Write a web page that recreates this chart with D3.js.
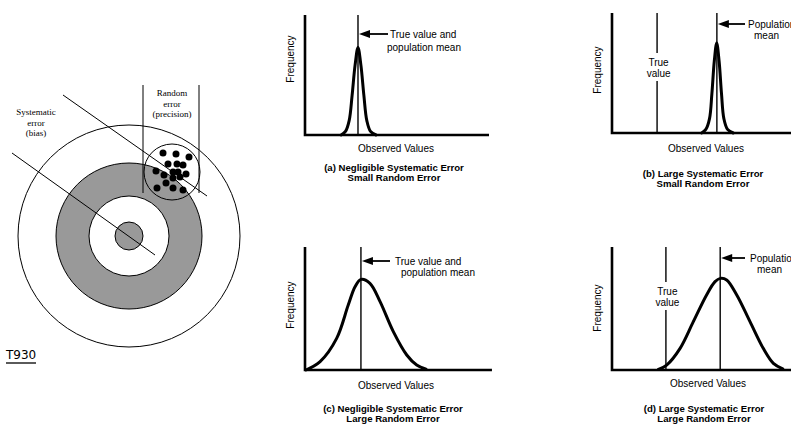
<!DOCTYPE html>
<html>
<head>
<meta charset="utf-8">
<script src="https://cdn.jsdelivr.net/npm/d3@7"></script>
<style>
  body { margin: 0; background: #fff; overflow: hidden; }
  svg { display: block; }
</style>
</head>
<body>
<div id="chart"></div>
<script>
// ---- target (left) : offsets from bullseye centre
var ringRadii = [111, 73, 40, 14]           // outer, gray ring, white, bull
var ringFills = ["#fff", "#999", "#fff", "#999"]
var hits = [
  [34,-83],[47,-82],[60,-79],[39,-72],[48,-72],[54,-71],[27,-65],[44,-64],
  [49,-64],[57,-62],[35,-61],[44,-58],[51,-59],[28,-48],[37,-53],[44,-48],[54,-46]
]
var hitCentre = [43, -64], hitRadius = 28

// ---- distribution panels : observed value vs frequency (0-100 units)
var curveA = [[19.6,0],[22,3],[24,12],[25.6,33],[27.2,58],[28.8,73],[30.4,58],[32,33],[33.6,12],[35.6,3],[38.6,0]]
var curveB = [[48.7,0],[51,3],[53,12],[54.3,33],[55.6,60],[56.9,75],[58.2,60],[59.5,33],[60.8,12],[62.8,3],[65.9,0]]
var curveC = [[0.5,0],[8.2,6.8],[17.2,25.7],[23.5,52.8],[27.2,67.7],[30.4,73.7],[35.3,70.5],[40.8,55.6],[48,31.2],[55.3,12.2],[60.7,4],[65.8,0.6]]
var curveD = [[25.2,0.5],[29.7,4],[37,17.6],[44.2,39.3],[51.4,61],[56,71.8],[58.9,74.5],[62.3,73.2],[67.8,61],[75,39.3],[82.2,17.6],[87.7,5.4],[92.8,1]]
var trueValues = [28.8, 24.5, 30.4, 29.3]
var meanValues = [28.8, 57, 30.4, 58.8]
var captions = [
  ["(a) Negligible Systematic Error", "Small Random Error"],
  ["(b) Large Systematic Error", "Small Random Error"],
  ["(c) Negligible Systematic Error", "Large Random Error"],
  ["(d) Large Systematic Error", "Large Random Error"]
]

var svg = d3.select("#chart").append("svg")
  .attr("width", 791).attr("height", 429)
  .style("background", "#fff")

var sans = "Liberation Sans, Arial, sans-serif"
var serif = "Liberation Serif, Times New Roman, serif"

// ============ target ============
var cx = 129, cy = 236
var tx = d3.scaleLinear().domain([-111, 111]).range([cx - 111, cx + 111])
var ty = d3.scaleLinear().domain([-111, 111]).range([cy - 111, cy + 111])
var tr = d3.scaleLinear().domain([0, 111]).range([0, 111])

var tg = svg.append("g")
tg.selectAll("circle.ring").data(ringRadii).enter().append("circle")
  .attr("class", "ring")
  .attr("cx", tx(0)).attr("cy", ty(0))
  .attr("r", function(d){ return tr(d) })
  .attr("fill", function(d, i){ return ringFills[i] })
  .attr("stroke", "#000").attr("stroke-width", 1)

// guide lines (random error brackets + bias lines)
var guideLines = [
  [14,-151,14,-43],[70,-151,70,-43],
  [-66,-141,78,-40],[-117,-83,26,19]
]
tg.append("circle")
  .attr("cx", tx(hitCentre[0])).attr("cy", ty(hitCentre[1]))
  .attr("r", tr(hitRadius))
  .attr("fill", "none").attr("stroke", "#000").attr("stroke-width", 1)
tg.selectAll("circle.hit").data(hits).enter().append("circle")
  .attr("class", "hit")
  .attr("cx", function(d){ return tx(d[0]) })
  .attr("cy", function(d){ return ty(d[1]) })
  .attr("r", 3.5).attr("fill", "#000")
tg.selectAll("line.guide").data(guideLines).enter().append("line")
  .attr("class", "guide")
  .attr("x1", function(d){ return tx(d[0]) }).attr("y1", function(d){ return ty(d[1]) })
  .attr("x2", function(d){ return tx(d[2]) }).attr("y2", function(d){ return ty(d[3]) })
  .attr("stroke", "#000").attr("stroke-width", 1)

function stack(g, lines, x, y0, dy, font, size, weight){
  lines.forEach(function(t, i){
    g.append("text").attr("x", x).attr("y", y0 + i*dy)
      .attr("text-anchor", "middle").attr("dominant-baseline", "central")
      .style("font-family", font).style("font-size", size + "px")
      .style("font-weight", weight || "normal")
      .text(t)
  })
}
stack(tg, ["Random", "error", "(precision)"], 172, 93, 10.5, serif, 9)
stack(tg, ["Systematic", "error", "(bias)"], 36, 112, 10.5, serif, 9)

tg.append("text").attr("x", 6).attr("y", 359)
  .style("font-family", "DejaVu Sans, sans-serif").style("font-size", "12px")
  .text("T930")
tg.append("line").attr("x1", 6).attr("x2", 36).attr("y1", 363).attr("y2", 363)
  .attr("stroke", "#000").attr("stroke-width", 1.3)

// ============ distribution panels ============
var panels = [
  { x0: 305, base: 135, top: 15,  axisEnd: 100,   curve: curveA, freqY: 59,
    obs: [396,148], cap: [394,167], arrowY: 34,  arrowTail: 388,
    lab: [["True value and", 390, 34], ["population mean", 387, 47]] },
  { x0: 612, base: 133, top: 13,  axisEnd: 100,   curve: curveB, freqY: 70,
    obs: [706,148], cap: [703,173], arrowY: 24,  arrowTail: 745,
    lab: [["Population", 748, 24], ["mean", 754, 35]], trueLab: [62, 53, 81] },
  { x0: 305, base: 370, top: 247, axisEnd: 101.6, curve: curveC, freqY: 305,
    obs: [396,385], cap: [393,408], arrowY: 261, arrowTail: 390,
    lab: [["True value and", 395, 261], ["population mean", 401, 272]] },
  { x0: 612, base: 370, top: 247, axisEnd: 100,   curve: curveD, freqY: 308,
    obs: [708,383], cap: [704,408], arrowY: 258, arrowTail: 745,
    lab: [["Population", 750, 258], ["mean", 757, 269]], trueLab: [291, 282, 310] }
]

panels.forEach(function(p, i){
  var x = d3.scaleLinear().domain([0, 100]).range([p.x0, p.x0 + 184])
  var y = d3.scaleLinear().domain([0, 100]).range([p.base, p.top])
  var g = svg.append("g")

  // vertical reference lines
  var tv = trueValues[i], mv = meanValues[i]
  g.append("line")
    .attr("x1", x(mv)).attr("x2", x(mv)).attr("y1", y(100)).attr("y2", y(0))
    .attr("stroke", "#000").attr("stroke-width", 1.4)
  if (tv !== mv) {
    g.append("line")
      .attr("x1", x(tv)).attr("x2", x(tv)).attr("y1", y(100)).attr("y2", y(0))
      .attr("stroke", "#000").attr("stroke-width", 1.4)
  }

  // frequency curve
  var line = d3.line()
    .x(function(d){ return x(d[0]) })
    .y(function(d){ return y(d[1]) })
    .curve(d3.curveCatmullRom.alpha(0.5))
  g.append("path").datum(p.curve)
    .attr("d", line)
    .attr("fill", "none").attr("stroke", "#000")
    .attr("stroke-width", 3).attr("stroke-linejoin", "round").attr("stroke-linecap", "round")

  // axes
  g.append("path")
    .attr("d", "M" + x(0) + "," + y(100) + "V" + y(0) + "H" + x(p.axisEnd))
    .attr("fill", "none").attr("stroke", "#000").attr("stroke-width", 2.6)

  // "True value" label with white gap
  if (p.trueLab) {
    var tcx = x(tv) + 1.5
    g.append("rect").attr("x", tcx - 15).attr("y", p.trueLab[1])
      .attr("width", 30).attr("height", p.trueLab[2] - p.trueLab[1]).attr("fill", "#fff")
    stack(g, ["True", "value"], tcx, p.trueLab[0], 11.5, sans, 10)
  }

  // arrow pointing at the mean line
  var tip = x(mv) + 1
  g.append("line").attr("x1", tip + 7).attr("x2", p.arrowTail)
    .attr("y1", p.arrowY).attr("y2", p.arrowY)
    .attr("stroke", "#000").attr("stroke-width", 1.8)
  g.append("path")
    .attr("d", "M" + tip + "," + p.arrowY + "L" + (tip + 11) + "," + (p.arrowY - 4) + "L" + (tip + 11) + "," + (p.arrowY + 4) + "Z")
    .attr("fill", "#000")
  p.lab.forEach(function(l){
    g.append("text").attr("x", l[1]).attr("y", l[2])
      .attr("dominant-baseline", "central")
      .style("font-family", sans).style("font-size", "10px")
      .text(l[0])
  })

  // axis titles
  g.append("text")
    .attr("transform", "translate(" + (p.x0 - 15) + "," + p.freqY + ") rotate(-90)")
    .attr("text-anchor", "middle").attr("dominant-baseline", "central")
    .style("font-family", sans).style("font-size", "10px")
    .text("Frequency")
  g.append("text").attr("x", p.obs[0]).attr("y", p.obs[1])
    .attr("text-anchor", "middle").attr("dominant-baseline", "central")
    .style("font-family", sans).style("font-size", "10px")
    .text("Observed Values")

  // caption
  stack(g, captions[i], p.cap[0], p.cap[1], 10.7, sans, 9.6, "bold")
})
</script>
</body>
</html>
